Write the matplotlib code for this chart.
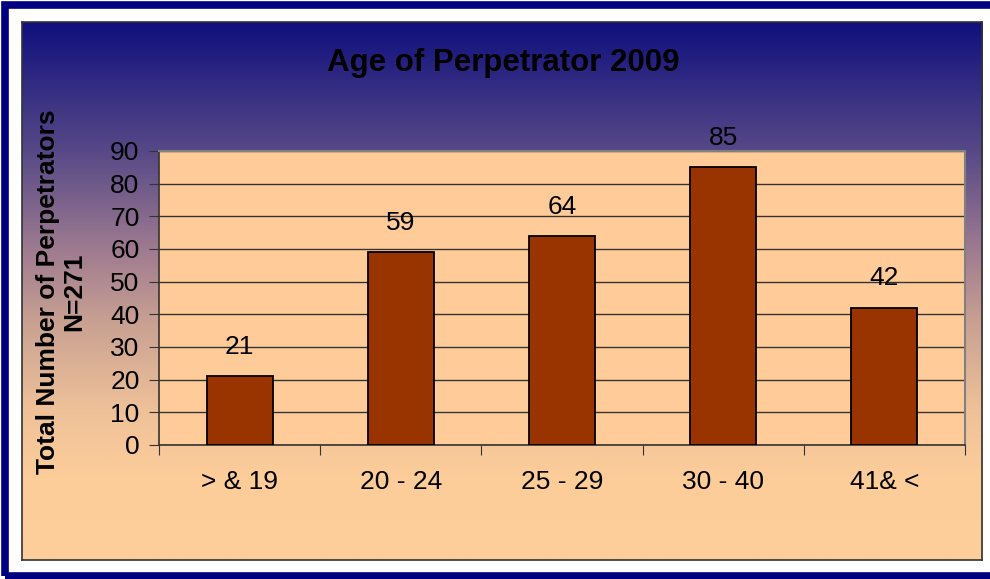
import numpy as np
import matplotlib.pyplot as plt
from matplotlib.colors import LinearSegmentedColormap
from matplotlib.patches import Rectangle

plt.rcParams['font.family'] = ['Liberation Sans', 'DejaVu Sans']

# data
age_groups = ['> & 19', '20 - 24', '25 - 29', '30 - 40', '41& <']
perpetrators = [21, 59, 64, 85, 42]
y_ticks = [0, 10, 20, 30, 40, 50, 60, 70, 80, 90]

W, H = 990, 579
fig = plt.figure(figsize=(W / 100, H / 100), dpi=100)
fig.patch.set_facecolor('white')

# blue outer frame
fig.patches.append(Rectangle((5 / W, 3 / H), 1.2, 1 - 8 / H, transform=fig.transFigure,
                             facecolor='none', edgecolor='#000080', linewidth=5.5))

# gradient background of chart area
x0, y0, x1, y1 = 22, 22, 982, 560
bg = fig.add_axes([x0 / W, 1 - y1 / H, (x1 - x0) / W, (y1 - y0) / H])
grad = LinearSegmentedColormap.from_list('bg', [
    (0.0, '#10107e'), (0.24, '#574987'), (0.42, '#9d7a90'),
    (0.56, '#c9a192'), (0.72, '#eec199'), (0.85, '#fdcd99'), (1.0, '#fecf9b')])
bg.imshow(np.linspace(0, 1, 256).reshape(-1, 1), aspect='auto', cmap=grad,
          extent=[0, 1, 0, 1], origin='upper')
bg.set_xticks([])
bg.set_yticks([])
for s in bg.spines.values():
    s.set_color('#333333')
    s.set_linewidth(1.2)

# plot area
px0, py0, px1, py1 = 159, 151, 965, 445
ax = fig.add_axes([px0 / W, 1 - py1 / H, (px1 - px0) / W, (py1 - py0) / H])
ax.set_facecolor('#ffcc99')
x = np.arange(len(age_groups))
bars = ax.bar(x, perpetrators, width=0.41, color='#993300', edgecolor='black',
              linewidth=1.3, zorder=3)
ax.set_xlim(-0.5, len(age_groups) - 0.5)
ax.set_ylim(0, 90)
ax.set_yticks(y_ticks)
ax.yaxis.grid(True, color='#333333', linewidth=1.0, zorder=0)
ax.set_xticks(np.arange(len(age_groups) + 1) - 0.5)
ax.set_xticklabels([])
ax.set_xticks(x, minor=True)
ax.set_xticklabels(age_groups, minor=True, fontsize=19)
ax.tick_params(axis='x', which='major', length=7, color='#333333', direction='out')
ax.tick_params(axis='x', which='minor', length=0, pad=18)
ax.tick_params(axis='y', length=7, color='#333333', labelsize=19, pad=7)
for side in ['top', 'right']:
    ax.spines[side].set_color('#808080')
    ax.spines[side].set_linewidth(1.5)
for side in ['left', 'bottom']:
    ax.spines[side].set_color('#333333')
    ax.spines[side].set_linewidth(1.2)

for b, v in zip(bars, perpetrators):
    ax.text(b.get_x() + b.get_width() / 2, v + 9, str(v), ha='center',
            va='center', fontsize=19, clip_on=False)

fig.text(503 / W, 1 - 63 / H, 'Age of Perpetrator 2009', ha='center', va='center',
         fontsize=22.5, fontweight='bold')
fig.text(61 / W, 1 - 292 / H, 'Total Number of Perpetrators\nN=271', ha='center',
         va='center', rotation=90, fontsize=19, fontweight='bold', linespacing=1.1)

fig.savefig('out.png', dpi=100)
